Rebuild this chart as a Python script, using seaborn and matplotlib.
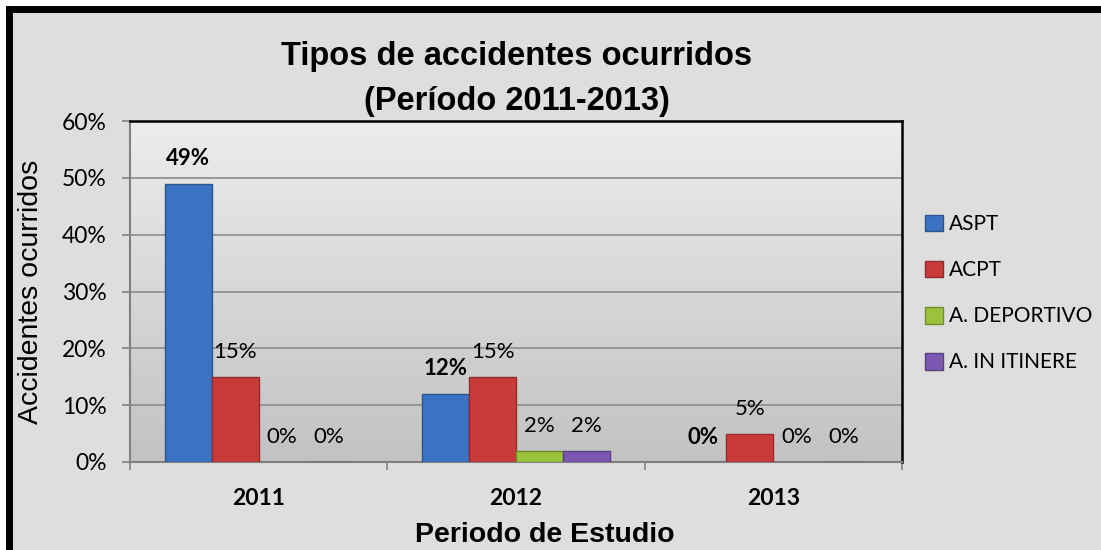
import numpy as np
import pandas as pd
import matplotlib
matplotlib.use("Agg")
import matplotlib.pyplot as plt
import seaborn as sns
from matplotlib.patches import Rectangle, Patch
from matplotlib.colors import LinearSegmentedColormap

years = ["2011", "2012", "2013"]
series = ["ASPT", "ACPT", "A. DEPORTIVO", "A. IN ITINERE"]
aspt = [49, 12, 0]
acpt = [15, 15, 5]
deportivo = [0, 2, 0]
itinere = [0, 2, 0]
yticks = [0, 10, 20, 30, 40, 50, 60]

colors = ["#3b73c2", "#c93b3b", "#9bc23c", "#7c58b3"]
edges = ["#2a5590", "#962a2a", "#6f8e28", "#5a3f85"]

rows = []
for name, vals in zip(series, [aspt, acpt, deportivo, itinere]):
    for y, v in zip(years, vals):
        rows.append({"year": y, "serie": name, "value": v})
df = pd.DataFrame(rows)

sns.set_theme(style="white")
plt.rcParams["font.family"] = ["Lato", "DejaVu Sans"]
for k in ["text.color", "axes.labelcolor", "xtick.color", "ytick.color"]:
    plt.rcParams[k] = "black"

fig = plt.figure(figsize=(11.01, 5.5), dpi=100, facecolor="white")
W, H = 1101, 550

# background panel with black frame (top/left visible)
fig.patches.append(Rectangle((9 / W, -0.05), 1.1, (550 - 8.5) / H + 0.05,
                             transform=fig.transFigure, facecolor="#dedede",
                             edgecolor="black", linewidth=5, zorder=-5))

ax = fig.add_axes([130 / W, (550 - 462) / H, (902 - 130) / W, (462 - 121) / H])
ax.set_facecolor("none")
ax.set_zorder(2)

grad = np.linspace(0, 1, 256).reshape(-1, 1)
cmap = LinearSegmentedColormap.from_list("g", ["#ededed", "#c2c2c2"])
ax.imshow(grad, cmap=cmap, extent=[0, 1, 0, 1], transform=ax.transAxes,
          aspect="auto", zorder=0)

sns.barplot(data=df, x="year", y="value", hue="serie", hue_order=series,
            palette=colors, width=0.73, gap=0, ax=ax, legend=False,
            saturation=1, zorder=3)

for i, cont in enumerate(ax.containers):
    for bar in cont:
        bar.set_edgecolor(edges[i])
        bar.set_linewidth(1.0)
        h = bar.get_height()
        ax.annotate(f"{int(round(h))}%", (bar.get_x() + bar.get_width() / 2, h),
                    xytext=(0, 18), textcoords="offset points",
                    ha="center", va="center", fontsize=16,
                    fontweight="bold" if i == 0 else "normal", color="black",
                    zorder=5)

ax.set_ylim(0, 60)
ax.set_xlim(-0.5, 2.5)
ax.set_yticks(yticks)
ax.set_yticklabels([f"{t}%" for t in yticks], fontsize=16.5)
ax.yaxis.grid(True, color="#8c8c8c", linewidth=1.2, zorder=1)
ax.set_axisbelow(True)

ax.set_xticks([0, 1, 2])
ax.set_xticklabels(years, fontsize=16.5, fontweight="bold")
ax.set_xticks([-0.5, 0.5, 1.5, 2.5], minor=True)
ax.tick_params(axis="x", which="major", length=0, pad=19)
ax.tick_params(axis="x", which="minor", length=6, width=1.2, color="#808080",
               direction="out", bottom=True)
ax.tick_params(axis="y", which="major", length=6, width=1.2, color="#808080", pad=11,
               direction="out", left=True)

for s in ["top", "right"]:
    ax.spines[s].set_color("black")
    ax.spines[s].set_linewidth(1.8)
    ax.spines[s].set_visible(True)
for s in ["left", "bottom"]:
    ax.spines[s].set_color("#808080")
    ax.spines[s].set_linewidth(1.5)
    ax.spines[s].set_visible(True)

ax.set_xlabel("")
ax.set_ylabel("Accidentes ocurridos", fontsize=20.5, family=["Liberation Sans", "DejaVu Sans"])
ax.yaxis.set_label_coords((44 - 130) / 772, 0.5)

fig.text(517 / W, (550 - 65) / H, "Tipos de accidentes ocurridos", ha="center",
         va="baseline", fontsize=23.5, fontweight="bold", family=["Liberation Sans", "DejaVu Sans"])
fig.text(517 / W, (550 - 110) / H, "(Período 2011-2013)", ha="center",
         va="baseline", fontsize=23.5, fontweight="bold", family=["Liberation Sans", "DejaVu Sans"])
fig.text(545 / W, (550 - 542) / H, "Periodo de Estudio", ha="center",
         va="baseline", fontsize=20.5, fontweight="bold", family=["Liberation Sans", "DejaVu Sans"])

handles = [Patch(facecolor=c, edgecolor=e, label=s) for c, e, s in zip(colors, edges, series)]
leg = fig.legend(handles=handles, loc="upper left", bbox_to_anchor=(917 / W, (550 - 206) / H),
                 frameon=False, fontsize=15, handlelength=0.85, handleheight=0.85,
                 handletextpad=0.3, labelspacing=1.25, borderaxespad=0)

fig.savefig("out.png", dpi=100, facecolor="white")
